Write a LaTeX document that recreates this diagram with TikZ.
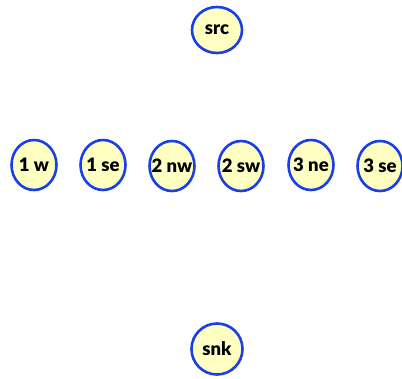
\documentclass[tikz,border=0pt]{standalone}
\usepackage{fontspec}
\setmainfont{Lato}[BoldFont={Lato Black}]
\usetikzlibrary{shapes.geometric}
\definecolor{rand}{HTML}{1A3FE6}
\definecolor{vulling}{HTML}{FFFFC2}
\tikzstyle{vertex} = [ellipse, draw=rand, fill=vulling, line width=2.6pt, inner sep=0pt, inner xsep=-10pt, font=\fontsize{18.5}{20}\selectfont\bfseries]
\tikzstyle{rij} = [vertex, minimum width=45pt, minimum height=50pt]
\tikzstyle{eind} = [vertex, minimum width=50pt, minimum height=46pt]

\begin{document}
\begin{tikzpicture}[x=1pt, y=-1pt]
\useasboundingbox (0,0) rectangle (402,378);
%bron
\node[eind] (src) at (217,30) {src};
%begin rij
\node[rij] (1w) at (34,165) {1 w};
\node[rij] (1se) at (103,165) {1 se};
\node[rij] (2nw) at (172,166) {2 nw};
\node[rij] (2sw) at (241,166) {2 sw};
\node[rij] (3ne) at (311,165) {3 ne};
\node[rij] (3se) at (380,166) {3 se};
%end rij
%put
\node[eind, minimum width=51pt, minimum height=51pt] (snk) at (217,349) {snk};
\end{tikzpicture}
\end{document}
